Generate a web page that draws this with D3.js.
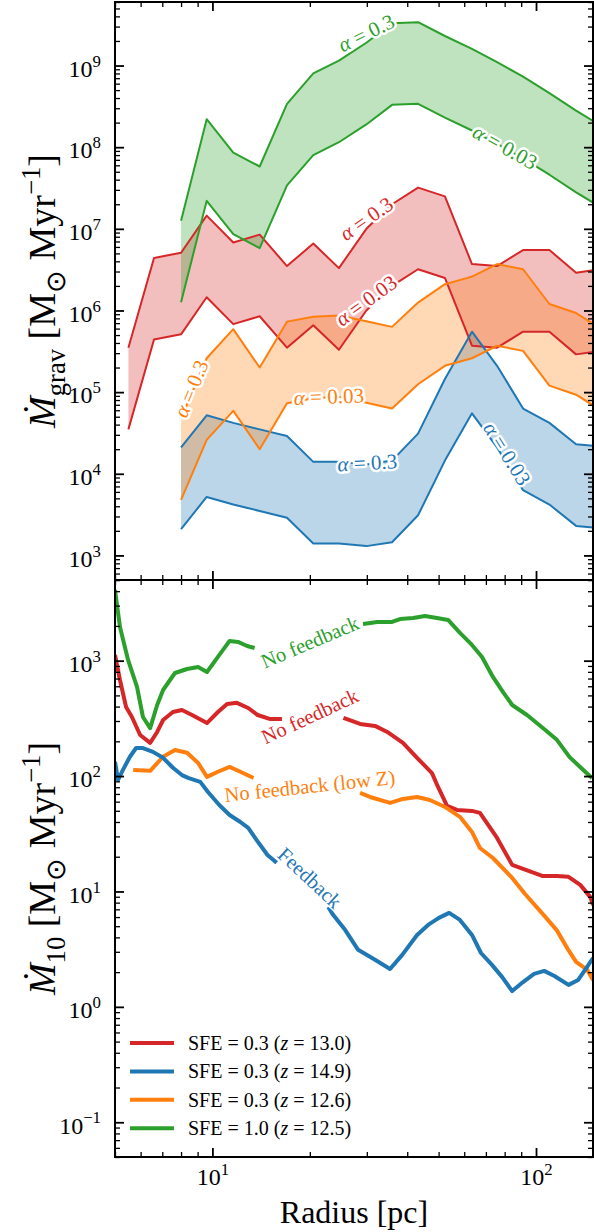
<!DOCTYPE html>
<html><head><meta charset="utf-8">
<script src="https://cdn.jsdelivr.net/npm/d3@7"></script>
</head><body style="margin:0;background:#fff">
<svg id="c" width="594" height="1232" font-family="Liberation Serif" style="display:block"></svg>
<script>
// ---------------- DATA ----------------
// top panel: gravitational accretion-rate bands (upper: alpha=0.3, lower: alpha=0.03)
const rTopRed = [5.5,6.6,8,9.6,11.6,14,17,20.5,24.6,29.9,35.9,43.2,52.3,63.4,75.8,91.2,110,133,150];
const rTop    = [8,9.6,11.6,14,17,20.5,24.6,29.9,35.9,43.2,52.3,63.4,75.8,91.2,110,133,150];
const redHi    = [3.5e5,4.4e6,5.1e6,1.45e7,6.8e6,8.5e6,3.5e6,6.6e6,3.3e6,1.0e7,2.0e7,3.2e7,2.5e7,3.7e6,3.5e6,5.5e6,5.5e6,2.9e6,3.1e6];
const redLo    = [3.5e4,4.4e5,5.1e5,1.45e6,6.8e5,8.5e5,3.5e5,6.6e5,3.3e5,1.0e6,2.0e6,3.2e6,2.5e6,3.7e5,3.5e5,5.5e5,5.5e5,2.9e5,3.1e5];
const greenHi  = [1.26e7,2.2e8,8.6e7,5.8e7,3.4e8,8.0e8,1.15e9,1.9e9,3.3e9,3.4e9,2.3e9,1.6e9,1.1e9,7.3e8,4.6e8,2.8e8,2.1e8];
const greenLo  = [1.26e6,2.2e7,8.6e6,5.8e6,3.4e7,8.0e7,1.15e8,1.9e8,3.3e8,3.4e8,2.3e8,1.6e8,1.1e8,7.3e7,4.6e7,2.8e7,2.1e7];
const orangeHi = [4.8e4,2.6e5,5.9e5,2.0e5,7.3e5,8.4e5,8.7e5,7.4e5,6.3e5,1.25e6,2.1e6,2.6e6,3.7e6,3.2e6,1.2e6,9.3e5,6.9e5];
const orangeLo = [4.8e3,2.6e4,5.9e4,2.0e4,7.3e4,8.4e4,8.7e4,7.4e4,6.3e4,1.25e5,2.1e5,2.6e5,3.7e5,3.2e5,1.2e5,9.3e4,6.9e4];
const blueHi   = [2.1e4,5.2e4,4.2e4,3.5e4,2.9e4,1.4e4,1.4e4,1.3e4,1.45e4,3.1e4,1.45e5,5.5e5,2.1e5,6.3e4,4.2e4,2.3e4,2.2e4];
const blueLo   = [2.1e3,5.2e3,4.2e3,3.5e3,2.9e3,1.4e3,1.4e3,1.3e3,1.45e3,3.1e3,1.45e4,5.5e4,2.1e4,6.3e3,4.2e3,2.3e3,2.2e3];

// bottom panel: Mdot_10 profiles (null = gap under inline label)
const greenR = [5.00,5.18,5.49,5.85,6.10,6.42,6.75,7.04,7.66,8.35,9.03,9.62,10.4,11.3,12.0,12.8,13.5,null,29.2,32.3,35.9,38.0,41.7,45.4,49.4,53.5,58.2,63.4,68.1,73.6,79.1,84.4,93.8,105,116,127,140,149];
const greenV = [4100,1960,1010,590,325,260,413,557,782,847,881,798,1077,1482,1453,1341,1288,null,2080,2163,2163,2296,2344,2440,2344,2254,1740,1369,1077,722,535,413,338,261,206,146,113,96];
const redR = [5.00,5.18,5.41,5.64,5.98,6.42,6.75,7.04,7.55,8.05,8.65,9.62,10.4,11.1,11.9,12.9,13.8,15.1,16.4,null,25.4,28.6,31.8,34.7,38.8,42.9,47.7,49.8,53.1,57.0,63.4,67.1,75.8,84.4,91.2,105,116,126,137,147,150];
const redV = [1120,680,397,325,227,194,241,306,359,374,338,288,359,422,431,389,338,312,312,null,319,283,272,241,194,144,106,80.5,55.1,50.9,49.9,48.0,29.1,17.0,15.7,13.6,13.6,13.4,11.4,8.98,7.65];
const orangeR = [5.69,6.42,7.04,7.66,8.35,9.03,9.62,10.4,11.3,12.2,13.4,null,28.6,30.7,35.4,38.8,42.9,47.0,52.3,58.2,63.4,67.1,73.6,84.4,92.5,107,116,126,133,144,150];
const orangeV = [113,111,147,168,159,130,98.3,109,120,109,96.2,null,71.4,65.9,58.5,63.4,65.9,62.1,54.0,44.3,32.8,23.8,19.5,13.1,9.5,6.0,4.6,3.1,2.45,2.09,1.71];
const blueR = [5.00,5.11,5.29,5.56,5.81,6.10,6.55,7.04,7.55,8.05,8.41,9.17,9.69,10.5,11.3,12.2,12.9,13.7,14.8,15.8,null,22.8,23.6,25.7,28.2,31.8,35.4,38.6,42.9,46.4,50.1,53.9,58.2,63.4,67.6,73.1,78.5,84.4,91.2,98.6,106,114,126,135,143,150];
const blueV = [133,92.7,113,147,175,175,162,144,118,102,96.4,89.0,72.8,56.2,46.0,40.0,35.5,27.9,20.7,17.7,null,7.35,6.27,4.65,3.12,2.56,2.13,2.82,4.20,5.13,5.90,6.52,5.67,4.20,2.93,2.31,1.82,1.37,1.64,1.93,2.05,1.85,1.55,1.71,2.17,2.65];

// inline labels
const topLabelText = ["α|= 0.3","α|= 0.03","α|= 0.3","α|= 0.03","α|= 0.3","α|= 0.03","α|= 0.3","α|= 0.03"];
const topLabelR = [29.9,80.2,29.9,29.9,8.6,22.9,30.1,81.3];
const topLabelV = [2.5e9,1.0e8,1.33e7,1.32e6,1.1e5,8.8e4,1.36e4,1.76e4];
const topLabelAng = [-26,29,-35,-36,-68,-2,-3,58];
const topLabelCol = ["green","green","red","red","orange","orange","blue","blue"];
const botLabelText = ["No feedback","No feedback","No feedback (low Z)","Feedback"];
const botLabelR = [20,20,20,20];
const botLabelV = [1450,330,82,13.1];
const botLabelAng = [-23,-25,-6,43];
const botLabelCol = ["green","red","orange","blue"];

const legendLabels = [["SFE = 0.3 (","z"," = 13.0)"],["SFE = 0.3 (","z"," = 14.9)"],["SFE = 0.3 (","z"," = 12.6)"],["SFE = 1.0 (","z"," = 12.5)"]];
const legendCol = ["red","blue","orange","green"];

// ---------------- DRAW ----------------
const COL = {red:"#d62728", blue:"#1f77b4", orange:"#ff7f0e", green:"#2ca02c"};
const FONT = "Liberation Serif";
const svg = d3.select("#c");
const L=115, R=593, T1=2, B1=580, T2=580, B2=1157;
const x = d3.scaleLog().domain([5,150]).range([L,R]);
const yTop = d3.scaleLog().domain([500,6e9]).range([B1,T1]);
const yBot = d3.scaleLog().domain([0.05,5000]).range([B2,T2]);

const defs = svg.append("defs");
defs.append("clipPath").attr("id","clipT").append("rect").attr("x",L).attr("y",T1).attr("width",R-L).attr("height",B1-T1);
defs.append("clipPath").attr("id","clipB").append("rect").attr("x",L).attr("y",T2).attr("width",R-L).attr("height",B2-T2);

function txt(parent){ return parent.append("text").attr("font-family",FONT); }
function rich(t, parts, fs){
  let cur=0;
  parts.forEach(p=>{
    const size = p.s ? fs*0.7 : fs;
    const target = p.s==='sub' ? fs*0.25 : p.s==='sup' ? -fs*0.4 : 0;
    const ts = t.append("tspan").text(p.t).attr("font-family",FONT).attr("font-size",size).attr("dy",(target-cur)+"px");
    if(p.i) ts.attr("font-style","italic");
    cur=target;
  });
}

// top bands
const gT = svg.append("g").attr("clip-path","url(#clipT)");
const bands = [
  {c:"red", r:rTopRed, hi:redHi, lo:redLo},
  {c:"blue", r:rTop, hi:blueHi, lo:blueLo},
  {c:"orange", r:rTop, hi:orangeHi, lo:orangeLo},
  {c:"green", r:rTop, hi:greenHi, lo:greenLo}
];
bands.forEach(b=>{
  const idx = d3.range(b.r.length);
  gT.append("path").attr("fill",COL[b.c]).attr("fill-opacity",0.3)
    .attr("d", d3.area().x(i=>x(b.r[i])).y0(i=>yTop(b.lo[i])).y1(i=>yTop(b.hi[i]))(idx));
});
bands.forEach(b=>{
  const idx = d3.range(b.r.length);
  [b.hi,b.lo].forEach(arr=>{
    gT.append("path").attr("fill","none").attr("stroke",COL[b.c]).attr("stroke-width",2)
      .attr("stroke-linejoin","round")
      .attr("d", d3.line().x(i=>x(b.r[i])).y(i=>yTop(arr[i]))(idx));
  });
});
topLabelText.forEach((s,i)=>{
  const [a,rest] = s.split("|");
  const t = txt(gT)
    .attr("transform",`translate(${x(topLabelR[i])},${yTop(topLabelV[i])}) rotate(${topLabelAng[i]})`)
    .attr("text-anchor","middle").attr("dominant-baseline","central")
    .attr("font-size",21).attr("fill",COL[topLabelCol[i]])
    .attr("stroke","#fff").attr("stroke-width",5).attr("stroke-linejoin","round")
    .attr("paint-order","stroke");
  rich(t,[{t:a,i:1},{t:" "+rest}],21);
});

// bottom lines
const gB = svg.append("g").attr("clip-path","url(#clipB)");
const series = [
  {c:"green", r:greenR, v:greenV},
  {c:"red", r:redR, v:redV},
  {c:"orange", r:orangeR, v:orangeV},
  {c:"blue", r:blueR, v:blueV}
];
series.forEach(s=>{
  const idx = d3.range(s.r.length);
  gB.append("path").attr("fill","none").attr("stroke",COL[s.c]).attr("stroke-width",4)
    .attr("stroke-linejoin","round")
    .attr("d", d3.line().defined(i=>s.r[i]!==null && s.v[i]!==null).x(i=>x(s.r[i])).y(i=>yBot(s.v[i]))(idx));
});
botLabelText.forEach((s,i)=>{
  txt(gB)
    .attr("transform",`translate(${x(botLabelR[i])},${yBot(botLabelV[i])}) rotate(${botLabelAng[i]})`)
    .attr("text-anchor","middle").attr("dominant-baseline","central")
    .attr("font-size",20.5).attr("fill",COL[botLabelCol[i]])
    .attr("stroke","#fff").attr("stroke-width",3).attr("paint-order","stroke")
    .text(s);
});

// legend
const lg = svg.append("g");
legendLabels.forEach((p,i)=>{
  const yy = 1043 + i*28.4;
  lg.append("line").attr("x1",130).attr("x2",174).attr("y1",yy).attr("y2",yy)
    .attr("stroke",COL[legendCol[i]]).attr("stroke-width",4);
  const t = txt(lg).attr("x",188).attr("y",yy).attr("dominant-baseline","central").attr("font-size",20);
  rich(t,[{t:p[0]},{t:p[1],i:1},{t:p[2]}],20);
});

// axes
function isMajor(t){ const l=Math.log10(t); return Math.abs(l-Math.round(l))<1e-9; }
function powLabel(sel){
  sel.each(function(d){
    const e=Math.round(Math.log10(d));
    const t=d3.select(this).text(null).attr("font-family",FONT);
    t.append("tspan").attr("font-family",FONT).text("10");
    t.append("tspan").attr("font-family",FONT).attr("font-size","0.7em").attr("dy","-0.6em").text(e<0?"\u2212"+(-e):String(e));
  });
}
function clean(g){ g.select(".domain").remove(); g.attr("font-family",FONT); g.selectAll("line").attr("stroke","#000"); }
function panelAxes(y, top, bottom, showX){
  const yt = y.ticks(), xt = x.ticks();
  const yMaj = yt.filter(isMajor), yMin = yt.filter(t=>!isMajor(t));
  const xMaj = xt.filter(isMajor), xMin = xt.filter(t=>!isMajor(t));
  const g = svg.append("g");
  g.append("g").attr("transform",`translate(${L},0)`).call(d3.axisLeft(y).tickValues(yMin).tickSize(-5).tickFormat("")).call(clean).selectAll("line").attr("stroke-width",1.3);
  const la = g.append("g").attr("transform",`translate(${L},0)`).call(d3.axisLeft(y).tickValues(yMaj).tickSize(-9).tickPadding(14)).call(clean);
  la.selectAll("line").attr("stroke-width",1.8);
  la.selectAll("text").attr("font-size",24).attr("fill","#000").attr("dy","0.45em").call(powLabel);
  g.append("g").attr("transform",`translate(${R},0)`).call(d3.axisRight(y).tickValues(yMin).tickSize(-5).tickFormat("")).call(clean).selectAll("line").attr("stroke-width",1.3);
  g.append("g").attr("transform",`translate(${R},0)`).call(d3.axisRight(y).tickValues(yMaj).tickSize(-9).tickFormat("")).call(clean).selectAll("line").attr("stroke-width",1.8);
  g.append("g").attr("transform",`translate(0,${top})`).call(d3.axisTop(x).tickValues(xMin).tickSize(-5).tickFormat("")).call(clean).selectAll("line").attr("stroke-width",1.3);
  g.append("g").attr("transform",`translate(0,${top})`).call(d3.axisTop(x).tickValues(xMaj).tickSize(-9).tickFormat("")).call(clean).selectAll("line").attr("stroke-width",1.8);
  g.append("g").attr("transform",`translate(0,${bottom})`).call(d3.axisBottom(x).tickValues(xMin).tickSize(-5).tickFormat("")).call(clean).selectAll("line").attr("stroke-width",1.3);
  const ba = g.append("g").attr("transform",`translate(0,${bottom})`).call(d3.axisBottom(x).tickValues(xMaj).tickSize(-9).tickPadding(11)).call(clean);
  ba.selectAll("line").attr("stroke-width",1.8);
  if(showX) ba.selectAll("text").attr("font-size",24).attr("fill","#000").call(powLabel);
  else ba.selectAll("text").remove();
  g.append("rect").attr("x",L).attr("y",top).attr("width",R-L).attr("height",bottom-top)
    .attr("fill","none").attr("stroke","#000").attr("stroke-width",2);
}
panelAxes(yTop, T1, B1, false);
panelAxes(yBot, T2, B2, true);

// axis titles
const yl1 = txt(svg).attr("transform",`translate(55,${(T1+B1)/2}) rotate(-90)`).attr("text-anchor","middle").attr("font-size",38);
rich(yl1,[{t:"\u1E40",i:1},{t:"grav",s:"sub"},{t:" [M"},{t:"\u2299",s:"sub"},{t:" Myr"},{t:"\u22121",s:"sup"},{t:"]"}],38);
const yl2 = txt(svg).attr("transform",`translate(55,${(T2+B2)/2}) rotate(-90)`).attr("text-anchor","middle").attr("font-size",38);
rich(yl2,[{t:"\u1E40",i:1},{t:"10",s:"sub"},{t:" [M"},{t:"\u2299",s:"sub"},{t:" Myr"},{t:"\u22121",s:"sup"},{t:"]"}],38);
txt(svg).attr("x",(L+R)/2).attr("y",1223).attr("text-anchor","middle").attr("font-size",32).text("Radius [pc]");
</script>
</body></html>
